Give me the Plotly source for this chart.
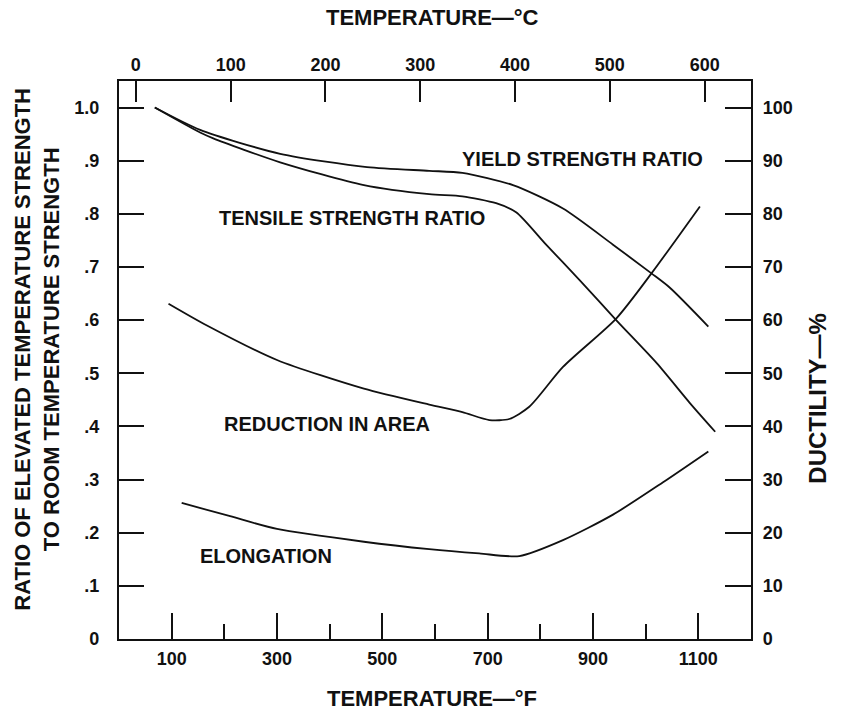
import plotly.graph_objects as go

# ---- data (temperature in deg F) ----
yield_temp_f = [68, 154, 306, 471, 589, 652, 748, 843, 938, 1011, 1046, 1119]
yield_ratio = [1.0, 0.958, 0.913, 0.888, 0.881, 0.877, 0.854, 0.810, 0.742, 0.688, 0.661, 0.588]

tensile_temp_f = [68, 154, 179, 306, 465, 589, 652, 716, 754, 811, 875, 944, 1021, 1084, 1132]
tensile_ratio = [1.0, 0.953, 0.942, 0.897, 0.854, 0.837, 0.833, 0.820, 0.803, 0.742, 0.675, 0.600, 0.519, 0.444, 0.390]

ra_temp_f = [94, 167, 300, 465, 589, 652, 703, 741, 779, 843, 944, 1011, 1103]
ra_pct = [63.1, 59.0, 52.5, 47.1, 44.1, 42.7, 41.2, 41.4, 43.7, 51.2, 60.3, 68.8, 81.4]

elong_temp_f = [119, 211, 300, 465, 589, 684, 760, 843, 938, 1033, 1119]
elong_pct = [25.6, 23.1, 20.7, 18.3, 16.9, 16.1, 15.6, 18.6, 23.4, 29.5, 35.3]

f_ticks = [100, 300, 500, 700, 900, 1100]
f_minor_ticks = [200, 400, 600, 800, 1000]
c_ticks = [0, 100, 200, 300, 400, 500, 600]
ratio_ticks = [0, 0.1, 0.2, 0.3, 0.4, 0.5, 0.6, 0.7, 0.8, 0.9, 1.0]
ratio_labels = ["0", ".1", ".2", ".3", ".4", ".5", ".6", ".7", ".8", ".9", "1.0"]
duct_ticks = [0, 10, 20, 30, 40, 50, 60, 70, 80, 90, 100]

F_MIN, F_MAX = 0, 1200
C_MIN, C_MAX = (F_MIN - 32) / 1.8, (F_MAX - 32) / 1.8

FONT = "Liberation Sans"
BLACK = "#111111"
LW = 1.8

fig = go.Figure()
line = dict(color=BLACK, width=LW, shape="spline", smoothing=0.7)
fig.add_trace(go.Scatter(x=yield_temp_f, y=yield_ratio, mode="lines", line=line,
                         xaxis="x", yaxis="y", showlegend=False))
fig.add_trace(go.Scatter(x=tensile_temp_f, y=tensile_ratio, mode="lines", line=line,
                         xaxis="x", yaxis="y", showlegend=False))
fig.add_trace(go.Scatter(x=ra_temp_f, y=ra_pct, mode="lines", line=line,
                         xaxis="x", yaxis="y2", showlegend=False))
fig.add_trace(go.Scatter(x=elong_temp_f, y=elong_pct, mode="lines", line=line,
                         xaxis="x", yaxis="y2", showlegend=False))
# invisible trace to activate top axis
fig.add_trace(go.Scatter(x=[C_MIN, C_MAX], y=[None, None], mode="lines",
                         xaxis="x2", yaxis="y", showlegend=False, hoverinfo="skip"))

tickfont = dict(family=FONT, size=18, color=BLACK, weight="bold")
axline = dict(showline=True, linecolor=BLACK, linewidth=2.2, showgrid=False, zeroline=False,
              ticks="inside", tickcolor=BLACK, tickwidth=2)

fig.update_layout(
    width=848, height=715,
    margin=dict(l=119, r=97, t=81, b=76),
    paper_bgcolor="white", plot_bgcolor="white",
    xaxis=dict(range=[F_MIN, F_MAX], tickvals=f_ticks, ticklen=26, tickfont=tickfont,
               ticklabelstandoff=2,
               minor=dict(tickvals=f_minor_ticks, ticklen=15, ticks="inside",
                          tickcolor=BLACK, tickwidth=2, showgrid=False),
               **axline),
    xaxis2=dict(range=[C_MIN, C_MAX], tickvals=c_ticks, ticklen=21, tickfont=tickfont,
                overlaying="x", side="top", anchor="y", ticklabelstandoff=1, **axline),
    yaxis=dict(range=[0, 1.05], tickvals=ratio_ticks, ticktext=ratio_labels, ticklen=25,
               tickfont=tickfont, ticklabelstandoff=14, **axline),
    yaxis2=dict(range=[0, 105], tickvals=duct_ticks, ticklen=26, tickfont=tickfont,
                overlaying="y", side="right", anchor="x", ticklabelstandoff=6, **axline),
)

lab = dict(family=FONT, size=20, color=BLACK, weight="bold")
title_font = dict(family=FONT, size=22, color=BLACK, weight="bold")
ann = [
    dict(text="YIELD STRENGTH RATIO", x=881, y=0.904, xref="x", yref="y"),
    dict(text="TENSILE STRENGTH RATIO", x=442, y=0.793, xref="x", yref="y"),
    dict(text="REDUCTION IN AREA", x=395, y=0.405, xref="x", yref="y"),
    dict(text="ELONGATION", x=279, y=0.156, xref="x", yref="y"),
    dict(text="TEMPERATURE\u2014\u00b0C", x=(432 - 119) / 632, y=(639.3 - 18) / 558,
         xref="paper", yref="paper", font=title_font),
    dict(text="TEMPERATURE\u2014\u00b0F", x=(432 - 119) / 632, y=(639.3 - 699) / 558,
         xref="paper", yref="paper", font=title_font),
    dict(text="RATIO OF ELEVATED TEMPERATURE STRENGTH<br>TO ROOM TEMPERATURE STRENGTH",
         x=(37 - 119) / 632, y=(639.3 - 350) / 558, xref="paper", yref="paper", textangle=-90,
         font=title_font),
    dict(text="DUCTILITY\u2014%", x=(818 - 119) / 632, y=(639.3 - 398) / 558,
         xref="paper", yref="paper", textangle=-90,
         font=dict(family=FONT, size=24, color=BLACK, weight="bold")),
]
for a in ann:
    a.setdefault("font", lab)
    a.update(showarrow=False, xanchor="center", yanchor="middle")
fig.update_layout(annotations=ann)

fig.write_html("out.html")
